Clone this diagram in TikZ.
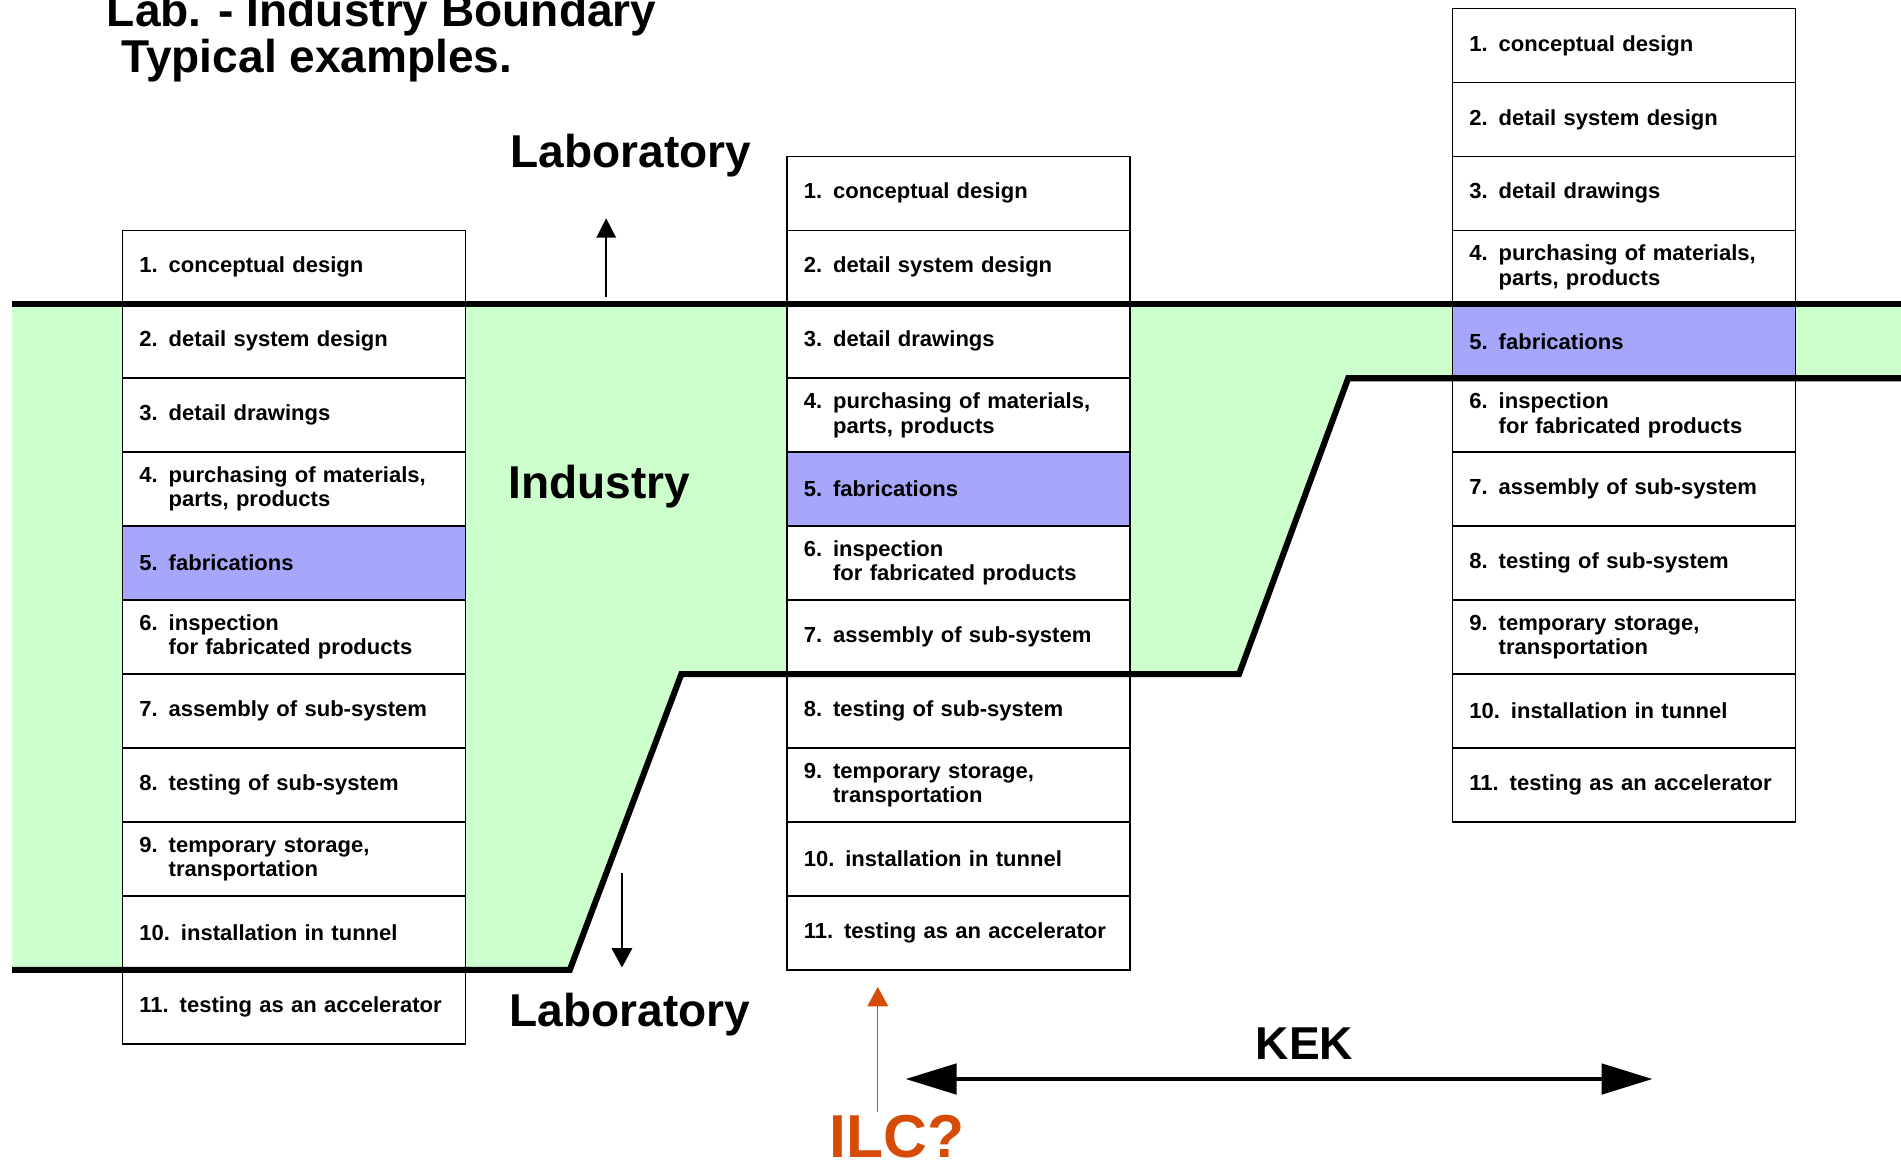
\documentclass[tikz,border=0pt]{standalone}
\usepackage{fontspec}
\setmainfont{Liberation Sans}
\newfontfamily\stagefont[FakeStretch=1.01]{Liberation Sans}
\usepackage{tikz}
\usetikzlibrary{positioning, arrows.meta}

\definecolor{indgreen}{RGB}{204,255,204}
\definecolor{fabblue}{RGB}{166,166,250}
\definecolor{ilcorange}{RGB}{214,76,6}

\tikzset{
	stage/.style={draw=black, line width=1.3pt, fill=white, outer sep=0pt, inner xsep=14pt, inner ysep=0pt,
		text width=255pt, minimum height=61pt, align=left,
		font=\stagefont\bfseries\fontsize{18}{20}\selectfont},
	fab/.style={stage, fill=fabblue},
	boundary/.style={line width=5pt, line cap=butt, line join=miter},
	biglabel/.style={font=\bfseries\fontsize{38}{40}\selectfont, inner sep=0pt, anchor=base west},
}

\begin{document}
\begin{tikzpicture}[x=1pt, y=-1pt]
					\useasboundingbox (0,0) rectangle (1568,958);
					\def\stA{1. conceptual design}
					\def\stB{2. detail system design}
					\def\stC{3. detail drawings}
					\def\stD{4. purchasing of materials,\\\hphantom{4. }parts, products}
					\def\stE{5. fabrications}
					\def\stF{6. inspection\\\hphantom{6. }for fabricated products}
					\def\stG{7. assembly of sub-system}
					\def\stH{8. testing of sub-system}
					\def\stI{9. temporary storage,\\\hphantom{9. }transportation}
					\def\stJ{10. installation in tunnel}
					\def\stK{11. testing as an accelerator}

					% boundary between laboratory and industry
					\coordinate (top l) at (10,251);
					\coordinate (top r) at (1575,251);
					\coordinate (low a) at (10,800);
					\coordinate (low b) at (470,800);
					\coordinate (low c) at (562,556);
					\coordinate (low d) at (1022,556);
					\coordinate (low e) at (1112,312);
					\coordinate (low f) at (1575,312);
					\fill [indgreen] (top l) -- (top r) -- (low f) -- (low e) -- (low d) -- (low c) -- (low b) -- (low a) -- cycle;

					\node[stage, anchor=north west] (lab 1) at (101,190) {\stA};
					\node[stage, below=0pt of lab 1] (lab 2) {\stB};
					\node[stage, below=0pt of lab 2] (lab 3) {\stC};
					\node[stage, below=0pt of lab 3] (lab 4) {\stD};
					\node[fab, below=0pt of lab 4] (lab 5) {\stE};
					\node[stage, below=0pt of lab 5] (lab 6) {\stF};
					\node[stage, below=0pt of lab 6] (lab 7) {\stG};
					\node[stage, below=0pt of lab 7] (lab 8) {\stH};
					\node[stage, below=0pt of lab 8] (lab 9) {\stI};
					\node[stage, below=0pt of lab 9] (lab 10) {\stJ};
					\node[stage, below=0pt of lab 10] (lab 11) {\stK};

					\node[stage, anchor=north west] (ilc 1) at (649,129) {\stA};
					\node[stage, below=0pt of ilc 1] (ilc 2) {\stB};
					\node[stage, below=0pt of ilc 2] (ilc 3) {\stC};
					\node[stage, below=0pt of ilc 3] (ilc 4) {\stD};
					\node[fab, below=0pt of ilc 4] (ilc 5) {\stE};
					\node[stage, below=0pt of ilc 5] (ilc 6) {\stF};
					\node[stage, below=0pt of ilc 6] (ilc 7) {\stG};
					\node[stage, below=0pt of ilc 7] (ilc 8) {\stH};
					\node[stage, below=0pt of ilc 8] (ilc 9) {\stI};
					\node[stage, below=0pt of ilc 9] (ilc 10) {\stJ};
					\node[stage, below=0pt of ilc 10] (ilc 11) {\stK};

					\node[stage, anchor=north west] (kek 1) at (1198,7) {\stA};
					\node[stage, below=0pt of kek 1] (kek 2) {\stB};
					\node[stage, below=0pt of kek 2] (kek 3) {\stC};
					\node[stage, below=0pt of kek 3] (kek 4) {\stD};
					\node[fab, below=0pt of kek 4] (kek 5) {\stE};
					\node[stage, below=0pt of kek 5] (kek 6) {\stF};
					\node[stage, below=0pt of kek 6] (kek 7) {\stG};
					\node[stage, below=0pt of kek 7] (kek 8) {\stH};
					\node[stage, below=0pt of kek 8] (kek 9) {\stI};
					\node[stage, below=0pt of kek 9] (kek 10) {\stJ};
					\node[stage, below=0pt of kek 10] (kek 11) {\stK};

					\draw [boundary] (top l) -- (top r);
					\draw [boundary] (low a) -- (low b) -- (low c) -- (low d) -- (low e) -- (low f);

					\node[biglabel] (title) at (88,22) {Lab. - Industry Boundary};
					\node[biglabel] (subtitle) at (100,60) {Typical examples.};
					\node[biglabel] (lab up) at (421,138) {Laboratory};
					\node[biglabel] (industry) at (419,411) {Industry};
					\node[biglabel] (lab down) at (420,847) {Laboratory};
					\node[biglabel, anchor=base] (kek) at (1076,874) {KEK};
					\node[biglabel, text=ilcorange, font=\bfseries\fontsize{50}{52}\selectfont] (ilc) at (684,955) {ILC?};

					\coordinate (up s) at (500,245);
					\coordinate (up e) at (500,180);
					\draw [-{Triangle[length=16pt, width=16pt]}, line width=1.3pt] (up s) -- (up e);

					\coordinate (down s) at (513,720);
					\coordinate (down e) at (513,798);
					\draw [-{Triangle[length=16pt, width=17pt]}, line width=1.3pt] (down s) -- (down e);

					\coordinate (ilc s) at (724,917);
					\coordinate (ilc e) at (724,814);
					\draw [-{Triangle[length=16pt, width=17pt]}, line width=1.2pt, draw=ilcorange, fill=ilcorange] (ilc s) -- (ilc e);

					\coordinate (kek l) at (747,890);
					\coordinate (kek r) at (1363,890);
					\draw [{Triangle[length=42pt, width=25pt]}-{Triangle[length=42pt, width=25pt]}, line width=3.3pt] (kek l) -- (kek r);
\end{tikzpicture}
\end{document}
